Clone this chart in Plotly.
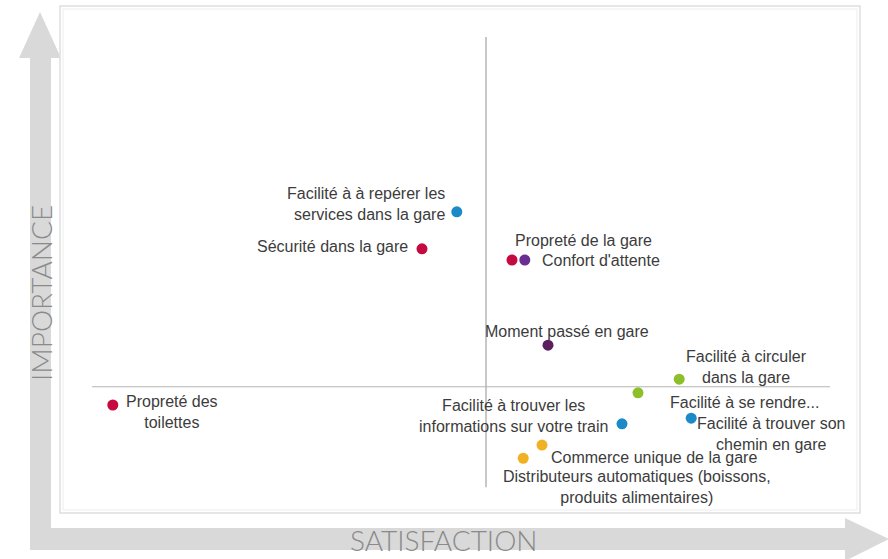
import plotly.graph_objects as go

# ---------------- data ----------------
labels = [
    "Facilité à à repérer les<br>services dans la gare",
    "Sécurité dans la gare",
    "Propreté de la gare",
    "Confort d'attente",
    "Moment passé en gare",
    "Facilité à circuler<br>dans la gare",
    "Facilité à se rendre...",
    "Facilité à trouver les<br>informations sur votre train",
    "Facilité à trouver son<br>chemin en gare",
    "Commerce unique de la gare",
    "Distributeurs automatiques (boissons,<br>produits alimentaires)",
    "Propreté des<br>toilettes",
]
satisfaction = [49.6, 45.25, 56.5, 58.1, 61.0, 77.4, 72.25, 70.25, 78.9, 60.25, 57.9, 6.6]
importance = [59.4, 52.1, 49.9, 49.9, 33.1, 26.4, 23.7, 17.6, 18.7, 13.4, 10.8, 21.3]
groups = ["blue", "red", "red", "purple", "darkpurple", "green", "green",
          "blue", "blue", "yellow", "yellow", "red"]

mean_satisfaction = 53.25
mean_importance = 24.9
quad_x_extent = [4.0, 96.25]
quad_y_extent = [5.1, 93.9]

x_title = "SATISFACTION"
y_title = "IMPORTANCE"

# ---------------- styles ----------------
colors = {
    "blue": "#1c89c8",
    "red": "#c6093f",
    "purple": "#6a2e92",
    "darkpurple": "#5b1f60",
    "green": "#8cbf2a",
    "yellow": "#f1b124",
}
# label placement: (xanchor, xshift, yshift, align)
label_pos = [
    ("right", -10, 8, "right"),
    ("right", -12, 2, "right"),
    ("left", 1, 20, "left"),
    ("left", 15, 0, "left"),
    ("center", 19, 14, "center"),
    ("center", 67, 12, "center"),
    ("left", 30, -10, "left"),
    ("right", -12, 8, "center"),
    ("left", 4, -16, "center"),
    ("left", 7, -12, "left"),
    ("center", 114, -29, "center"),
    ("left", 11, -7, "center"),
]

W, H = 888, 559
box = (60, 6, 860, 513)  # left, top, right, bottom in px


def px(x):
    return x / W


def py(y):
    return 1 - y / H


fig = go.Figure()
fig.add_trace(go.Scatter(
    x=satisfaction, y=importance, mode="markers",
    marker=dict(size=11, color=[colors[g] for g in groups]),
    hoverinfo="text", text=labels, showlegend=False,
))

annotations = []
for lab, xv, yv, (xa, xs, ys, al) in zip(labels, satisfaction, importance, label_pos):
    annotations.append(dict(
        x=xv, y=yv, xref="x", yref="y", text=lab, showarrow=False,
        xanchor=xa, yanchor="middle", xshift=xs, yshift=ys, align=al,
        font=dict(family="Liberation Sans, Arial, sans-serif", size=16, color="#3c3c3c"),
    ))

title_font = dict(family="Lato, sans-serif", size=28, color="#8a8a8a", weight=300)
annotations.append(dict(
    x=px(41), y=py(293), xref="paper", yref="paper", text=y_title, textangle=-90,
    showarrow=False, xanchor="center", yanchor="middle", font=title_font,
))
annotations.append(dict(
    x=px(443), y=py(540), xref="paper", yref="paper", text=x_title,
    showarrow=False, xanchor="center", yanchor="middle", font=title_font,
))

arrow_col = "#d9d9d9"
vert_arrow = (f"M {px(30)},{py(550)} L {px(30)},{py(58)} L {px(19)},{py(58)} "
              f"L {px(40)},{py(12)} L {px(61)},{py(58)} L {px(51)},{py(58)} "
              f"L {px(51)},{py(528)} L {px(845)},{py(528)} L {px(845)},{py(518)} "
              f"L {px(889)},{py(539)} L {px(845)},{py(561)} L {px(845)},{py(550)} Z")

shapes = [
    dict(type="path", path=vert_arrow, xref="paper", yref="paper",
         fillcolor=arrow_col, line=dict(width=0), layer="below"),
    dict(type="rect", xref="paper", yref="paper",
         x0=px(box[0]), x1=px(box[2]), y0=py(box[3]), y1=py(box[1]),
         fillcolor="white", line=dict(color="#dedede", width=1.5), layer="below"),
    dict(type="rect", xref="paper", yref="paper",
         x0=px(box[0] + 3), x1=px(box[2] - 3), y0=py(box[3] - 3), y1=py(box[1] + 3),
         fillcolor="rgba(0,0,0,0)", line=dict(color="#f3f3f3", width=1.5), layer="below"),
    dict(type="line", xref="x", yref="y", x0=mean_satisfaction, x1=mean_satisfaction,
         y0=quad_y_extent[0], y1=quad_y_extent[1], line=dict(color="#a3a3a3", width=1.2), layer="below"),
    dict(type="line", xref="x", yref="y", x0=quad_x_extent[0], x1=quad_x_extent[1],
         y0=mean_importance, y1=mean_importance, line=dict(color="#b5b5b5", width=1.2), layer="below"),
]

fig.update_layout(
    width=W, height=H, margin=dict(l=0, r=0, t=0, b=0),
    paper_bgcolor="white", plot_bgcolor="rgba(0,0,0,0)",
    xaxis=dict(domain=[px(box[0]), px(box[2])], range=[0, 100], visible=False, fixedrange=True),
    yaxis=dict(domain=[py(box[3]), py(box[1])], range=[0, 100], visible=False, fixedrange=True),
    shapes=shapes, annotations=annotations,
)

fig.write_html(
    "out.html",
    config={"displayModeBar": False},
    post_script="document.body.style.margin='0';document.body.style.overflow='hidden';",
)
